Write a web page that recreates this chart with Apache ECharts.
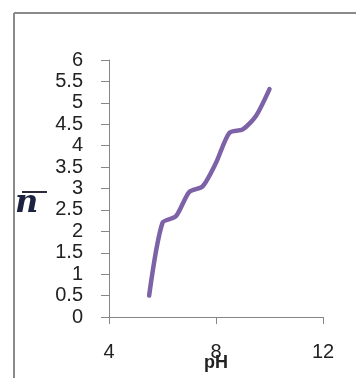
<!DOCTYPE html>
<html>
<head>
<meta charset="utf-8">
<style>
  html, body { margin: 0; padding: 0; background: #fff; }
  #chart { width: 356px; height: 378px; }
</style>
<script src="https://cdn.jsdelivr.net/npm/echarts@6/dist/echarts.min.js"></script>
</head>
<body>
<div id="chart"></div>
<script>
// pH values and n-bar
var phValues = [5.5, 6, 6.5, 7, 7.5, 8, 8.5, 9, 9.5, 10];
var nBar = [0.5, 2.2, 2.35, 2.92, 3.05, 3.6, 4.3, 4.38, 4.7, 5.32];

var points = [];
for (var i = 0; i < phValues.length; i++) {
  points.push([phValues[i], nBar[i]]);
}

var myChart = echarts.init(document.getElementById('chart'));
var axisColor = '#868686';
var font = 'Liberation Sans, Arial, sans-serif';

var option = {
  animation: false,
  grid: { left: 109, right: 33, top: 60, bottom: 61, outerBoundsMode: 'none', containLabel: false },
  xAxis: {
    type: 'value',
    min: 4, max: 12, interval: 4,
    name: 'pH',
    nameLocation: 'middle',
    nameGap: 37,
    nameMoveOverlap: false,
    nameTextStyle: { fontFamily: font, fontWeight: 'bold', fontSize: 18, color: '#222' },
    axisLine: { show: true, lineStyle: { color: axisColor, width: 1 } },
    axisTick: { show: true, length: 7, lineStyle: { color: axisColor } },
    axisLabel: { margin: 25, fontFamily: font, fontSize: 20, color: '#222' },
    splitLine: { show: false }
  },
  yAxis: {
    type: 'value',
    min: 0, max: 6, interval: 0.5,
    axisLine: { show: true, lineStyle: { color: axisColor, width: 1 } },
    axisTick: { show: true, length: 8, lineStyle: { color: axisColor } },
    axisLabel: { margin: 26, fontFamily: font, fontSize: 20, color: '#222' },
    splitLine: { show: false }
  },
  graphic: [
    // frame border (left and top)
    { type: 'line', shape: { x1: 14, y1: 13, x2: 14, y2: 378 }, style: { stroke: '#8a8a8a', lineWidth: 2 } },
    { type: 'line', shape: { x1: 14, y1: 13, x2: 356, y2: 13 }, style: { stroke: '#8a8a8a', lineWidth: 2 } },
    // y axis name: n with overbar
    { type: 'text', left: 15, top: 188,
      style: { text: 'n', fontFamily: 'DejaVu Serif, serif', fontStyle: 'italic', fontWeight: 'bold',
               fontSize: 32, fill: '#1c2340', textShadowColor: '#d9892c', textShadowOffsetX: -1.5 } },
    { type: 'line', shape: { x1: 22, y1: 192, x2: 47, y2: 192 }, style: { stroke: '#2a2a3a', lineWidth: 2 } }
  ],
  series: [{
    type: 'line',
    data: points,
    smooth: 0.25,
    showSymbol: false,
    lineStyle: { color: '#7e62a8', width: 4.5, cap: 'round' }
  }]
};

myChart.setOption(option);
window.addEventListener('resize', function () {
  myChart.resize();
});
</script>
</body>
</html>
